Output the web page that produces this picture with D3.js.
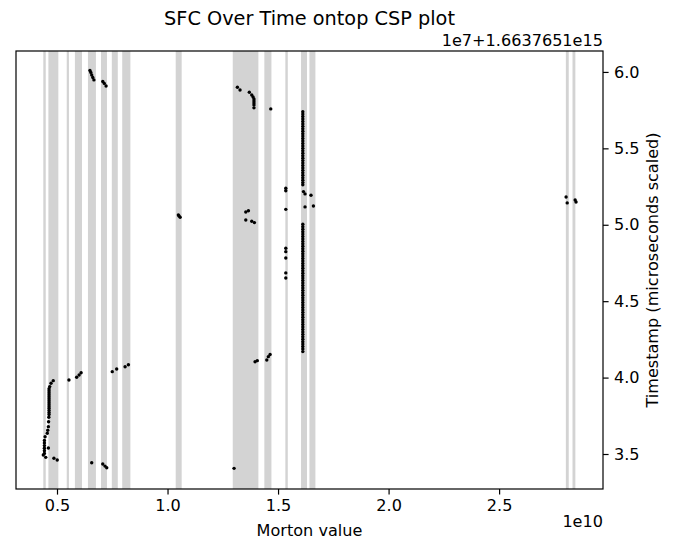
<!DOCTYPE html>
<html>
<head>
<meta charset="utf-8">
<script src="https://cdn.jsdelivr.net/npm/d3@7"></script>
<style>
  body { margin: 0; background: #fff; }
  text { font-family: "DejaVu Sans", sans-serif; fill: #000; }
</style>
</head>
<body>
<svg id="chart" width="689" height="540"></svg>
<script>
// ---- Data (x in units of 1e10 Morton value, y in units of 1e7 offset from 1.6637651e15) ----
const bandStarts = [0.438, 0.461, 0.544, 0.581, 0.640, 0.699, 0.748, 0.795, 1.037, 1.295, 1.438, 1.533, 1.604, 1.642, 2.802, 2.832];
const bandEnds   = [0.449, 0.506, 0.554, 0.613, 0.676, 0.726, 0.775, 0.832, 1.064, 1.411, 1.470, 1.544, 1.631, 1.669, 2.815, 2.845];

const pointX = [
  // left column
  0.483, 0.473, 0.467, 0.464, 0.464, 0.464, 0.464, 0.464, 0.464, 0.464, 0.464, 0.464, 0.464, 0.464, 0.464, 0.464, 0.464, 0.463, 0.462,
  0.461, 0.458, 0.456, 0.446, 0.443, 0.443, 0.443, 0.443, 0.443, 0.443, 0.461, 0.438, 0.449, 0.486, 0.501,
  // small groups near column
  0.554, 0.589, 0.600, 0.609, 0.750, 0.770, 0.808, 0.823,
  0.657, 0.707, 0.717, 0.725,
  // top-left
  0.649, 0.653, 0.657, 0.662, 0.667, 0.707, 0.714, 0.722,
  // near 1.05
  1.049, 1.052, 1.057,
  // middle upper
  1.316, 1.328, 1.370, 1.381, 1.387, 1.391, 1.391, 1.391, 1.391, 1.391, 1.467,
  // middle
  1.354, 1.366, 1.354, 1.381, 1.393,
  // column at 1.535
  1.535, 1.535, 1.535, 1.535, 1.535, 1.535, 1.535, 1.535,
  // bottom middle
  1.396, 1.406, 1.449, 1.456, 1.464, 1.301,
  // right
  2.803, 2.808, 2.844, 2.848,
  // bits next to dense columns
  1.615, 1.622, 1.649, 1.622, 1.660
];
const pointY = [
  3.980, 3.963, 3.941, 3.927, 3.914, 3.901, 3.888, 3.875, 3.862, 3.849, 3.836, 3.823, 3.810, 3.797, 3.784, 3.771, 3.758, 3.740, 3.711,
  3.679, 3.655, 3.636, 3.613, 3.589, 3.572, 3.555, 3.538, 3.521, 3.504, 3.539, 3.493, 3.478, 3.472, 3.461,
  3.984, 4.002, 4.017, 4.032, 4.039, 4.056, 4.071, 4.084,
  3.443, 3.435, 3.421, 3.410,
  6.009, 5.997, 5.980, 5.964, 5.948, 5.937, 5.925, 5.908,
  5.064, 5.058, 5.049,
  5.900, 5.882, 5.867, 5.849, 5.836, 5.823, 5.810, 5.797, 5.784, 5.765, 5.758,
  5.084, 5.092, 5.031, 5.023, 5.014,
  5.239, 5.223, 5.101, 4.846, 4.824, 4.783, 4.685, 4.652,
  4.104, 4.111, 4.115, 4.137, 4.151, 3.406,
  5.182, 5.143, 5.162, 5.149,
  5.217, 5.202, 5.193, 5.117, 5.123
];

// dense vertical runs at Morton ~1.612
const denseX = 1.612;
const denseUpperY = [5.740, 5.724, 5.708, 5.692, 5.676, 5.660, 5.644, 5.628, 5.612, 5.596, 5.580, 5.564, 5.548, 5.532, 5.516, 5.500,
  5.484, 5.468, 5.452, 5.436, 5.420, 5.404, 5.388, 5.372, 5.356, 5.340, 5.324, 5.308, 5.292, 5.276, 5.262];
const denseLowerY = [5.003, 4.987, 4.971, 4.955, 4.939, 4.923, 4.907, 4.891, 4.875, 4.859, 4.843, 4.827, 4.811, 4.795, 4.779, 4.763,
  4.747, 4.731, 4.715, 4.699, 4.683, 4.667, 4.651, 4.635, 4.619, 4.603, 4.587, 4.571, 4.555, 4.539, 4.523, 4.507,
  4.491, 4.475, 4.459, 4.443, 4.427, 4.411, 4.395, 4.379, 4.363, 4.347, 4.331, 4.315, 4.299, 4.283, 4.267, 4.251,
  4.235, 4.219, 4.203, 4.187, 4.170];

const xTicks = [0.5, 1.0, 1.5, 2.0, 2.5];
const yTicks = [3.5, 4.0, 4.5, 5.0, 5.5, 6.0];

// ---- Chart ----
const svg = d3.select("#chart");
const L = 16, R = 603, T = 51, B = 489;
const x = d3.scaleLinear().domain([0.3145, 2.97]).range([L, R]);
const y = d3.scaleLinear().domain([3.271, 6.137]).range([B, T]);

const bands = bandStarts.map((s, i) => ({ s, e: bandEnds[i] }));
svg.append("g").selectAll("rect").data(bands).join("rect")
  .attr("x", d => x(d.s)).attr("width", d => x(d.e) - x(d.s))
  .attr("y", T).attr("height", B - T)
  .attr("fill", "#d3d3d3");

const pts = pointX.map((v, i) => ({ x: v, y: pointY[i] }))
  .concat(denseUpperY.map(v => ({ x: denseX, y: v })))
  .concat(denseLowerY.map(v => ({ x: denseX, y: v })));

svg.append("g").selectAll("circle").data(pts).join("circle")
  .attr("cx", d => x(d.x)).attr("cy", d => y(d.y))
  .attr("r", 1.7).attr("fill", "#000");

// frame
svg.append("rect").attr("x", L).attr("y", T).attr("width", R - L).attr("height", B - T)
  .attr("fill", "none").attr("stroke", "#000").attr("stroke-width", 1.2);

// axes
const FS = "16.1px";
const xAxis = d3.axisBottom(x).tickValues(xTicks).tickFormat(d3.format(".1f")).tickSize(5.6).tickPadding(5.4);
const gx = svg.append("g").attr("transform", `translate(0,${B})`).call(xAxis);
gx.select(".domain").remove();
gx.selectAll("text").style("font-size", FS).style("font-family", "DejaVu Sans");
gx.selectAll("line").attr("stroke-width", 1.2);

const yAxis = d3.axisRight(y).tickValues(yTicks).tickFormat(d3.format(".1f")).tickSize(5.6).tickPadding(5.4);
const gy = svg.append("g").attr("transform", `translate(${R},0)`).call(yAxis);
gy.select(".domain").remove();
gy.selectAll("text").style("font-size", FS).style("font-family", "DejaVu Sans");
gy.selectAll("line").attr("stroke-width", 1.2);

// labels
svg.append("text").attr("x", (L + R) / 2).attr("y", 25).attr("text-anchor", "middle")
  .style("font-size", "19.3px").text("SFC Over Time ontop CSP plot");
svg.append("text").attr("x", R).attr("y", 46).attr("text-anchor", "end")
  .style("font-size", FS).text("1e7+1.6637651e15");
svg.append("text").attr("x", (L + R) / 2).attr("y", 536).attr("text-anchor", "middle")
  .style("font-size", FS).text("Morton value");
svg.append("text").attr("x", R).attr("y", 527).attr("text-anchor", "end")
  .style("font-size", FS).text("1e10");
svg.append("text").attr("transform", `translate(658,${(T + B) / 2}) rotate(-90)`).attr("text-anchor", "middle")
  .style("font-size", FS).text("Timestamp (microseconds scaled)");
</script>
</body>
</html>
